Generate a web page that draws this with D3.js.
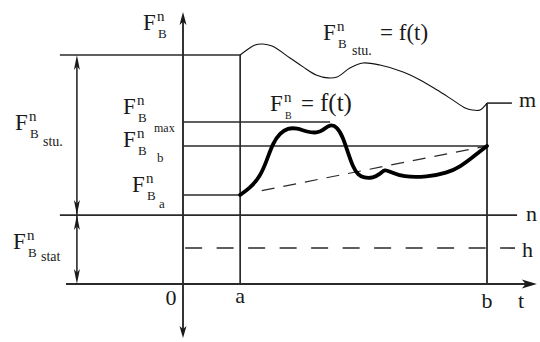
<!DOCTYPE html>
<html><head><meta charset="utf-8">
<script src="https://cdn.jsdelivr.net/npm/d3@7"></script>
</head><body style="margin:0;background:#fff">
<svg id="c" width="540" height="342" style="display:block"></svg>
<script>
// ---- data ----
const tickLabels = ["0", "a", "b"];
const tickTimes = [0, 18.8, 100];
const levelNames = ["stuA", "m", "max", "b", "a", "n", "h"];
const levelValues = [100, 79.0, 70.7, 60.3, 38.9, 30.1, 15.7];
// upper curve F_B_stu = f(t)
const stuT = [18.8, 21.0, 23.7, 26.3, 29.3, 35.2, 39.5, 43.8, 47.7, 50.7, 54.9, 59.2, 64.8, 72.4, 78.0, 83.6, 88.8, 92.8, 95.1, 97.7, 100];
const stuF = [100, 102.2, 104.4, 104.8, 103.9, 98.7, 94.8, 91.3, 90.0, 90.4, 94.3, 96.5, 95.6, 92.6, 89.1, 84.7, 80.3, 76.9, 76.0, 76.0, 79.0];
// thick curve F_B = f(t)
const fbT = [18.8, 22.0, 25.3, 27.6, 29.6, 31.9, 34.5, 37.5, 40.8, 44.1, 46.1, 48.4, 50.7, 52.6, 54.3, 55.9, 57.6, 59.5, 62.5, 64.8, 66.4, 68.1, 72.4, 80.3, 86.8, 91.1, 95.4, 100];
const fbF = [38.9, 41.9, 46.7, 54.1, 61.6, 65.9, 68.1, 68.1, 66.4, 65.9, 67.2, 69.8, 68.6, 64.2, 57.2, 51.1, 47.6, 46.3, 46.3, 48.0, 50.2, 48.9, 46.7, 46.7, 48.5, 51.1, 55.5, 60.3];

// ---- layout ----
const svg = d3.select("#c");
const x = d3.scaleLinear().domain([0, 100]).range([183, 487]);
const y = d3.scaleLinear().domain([0, 100]).range([284, 55]);
const lv = n => levelValues[levelNames.indexOf(n)];
const T_A = tickTimes[1], T_B = tickTimes[2];
const X_LEFT = -40.5, X_DIM = -34.9, X_AXIS_START = -38.5, X_AXIS_END = 116.4;
const Y_TOP = 118.8, Y_BOT = -23.6;
const LC = "#2a2a2a";

function seg(x1, y1, x2, y2, w, dash) {
  const l = svg.append("line").attr("x1", x1).attr("y1", y1).attr("x2", x2).attr("y2", y2)
    .attr("stroke", LC).attr("stroke-width", w || 1.6);
  if (dash) l.attr("stroke-dasharray", dash);
  return l;
}
function arrow(px, py, dir, len, hw) {
  let p;
  if (dir === "up") p = [[px, py], [px - hw, py + len], [px, py + len * 0.75], [px + hw, py + len]];
  else if (dir === "down") p = [[px, py], [px - hw, py - len], [px, py - len * 0.75], [px + hw, py - len]];
  else p = [[px, py], [px - len, py - hw], [px - len * 0.75, py], [px - len, py + hw]];
  svg.append("path").attr("d", "M" + p.map(d => d.join(",")).join("L") + "Z").attr("fill", "#1a1a1a");
}

// horizontal levels
seg(x(X_LEFT), y(lv("stuA")), x(T_A), y(lv("stuA")));
const pk = d3.maxIndex(fbF);
seg(x(0), y(lv("max")), x(fbT[pk]), y(lv("max")), 1.5);
seg(x(0), y(lv("b")), x(T_B), y(lv("b")), 1.5);
seg(x(0), y(lv("a")), x(T_A), y(lv("a")), 1.5);
seg(x(X_LEFT), y(lv("n")), x(109.9), y(lv("n")), 1.8);
seg(x(0.7), y(lv("h")), x(109.2), y(lv("h")), 1.6, "17,14.5");
seg(x(T_B), y(lv("m")), x(108.2), y(lv("m")), 1.6);

// verticals a, b
seg(x(T_A), y(lv("stuA")), x(T_A), y(0), 1.7);
seg(x(T_B), y(lv("m")), x(T_B), y(0), 1.8);

// t axis
seg(x(X_AXIS_START), y(0), x(X_AXIS_END) - 8, y(0), 1.9);
arrow(x(X_AXIS_END), y(0), "right", 15, 4.5);

// y axis
seg(x(0), y(Y_TOP) + 8, x(0), y(Y_BOT) - 8, 1.9);
arrow(x(0), y(Y_TOP), "up", 13, 3.5);
arrow(x(0), y(Y_BOT), "down", 12, 3.5);

// dimension line
seg(x(X_DIM), y(100) + 6, x(X_DIM), y(0) - 6, 1.6);
arrow(x(X_DIM), y(100), "up", 15, 3);
arrow(x(X_DIM), y(lv("n")), "down", 15, 3);
arrow(x(X_DIM), y(lv("n")), "up", 15, 3);
arrow(x(X_DIM), y(0), "down", 15, 3);

// dashed trend line a -> b
seg(x(T_A), y(lv("a")), x(T_B), y(lv("b")), 1.2, "0,22,13,9,13,9,13,9,13,9,13,9,13,9,13,9,13,9,13,9,13,9,13,9,13,9");

// curves
const line = d3.line().x(d => x(d[0])).y(d => y(d[1])).curve(d3.curveCatmullRom.alpha(0.5));
svg.append("path").attr("d", line(d3.zip(stuT, stuF))).attr("fill", "none")
  .attr("stroke", "#111").attr("stroke-width", 1.1);
const thick = d3.line().x(d => x(d[0])).y(d => y(d[1])).curve(d3.curveBasis);
svg.append("path").attr("d", thick(d3.zip(fbT, fbF))).attr("fill", "none")
  .attr("stroke", "#000").attr("stroke-width", 3.8).attr("stroke-linejoin", "round").attr("stroke-linecap", "round");

const fams = ["Times New Roman"];
const labels = svg.append("g").attr("font-family", "serif");
function t(xp, yp, s, fs, anchor) {
  return labels.append("text").attr("x", xp).attr("y", yp).attr("font-size", fs)
    .style("font-family", fams[0])
    .attr("fill", "#1a1a1a").attr("text-anchor", anchor || "start").text(s);
}
// tick labels
tickLabels.forEach((d, i) => t(x(tickTimes[i]) + (i === 0 ? -12 : 0), [305, 303, 308][i], d, 22, "middle"));
t(521, 308, "t", 22, "middle");
t(519, 107, "m", 22);
t(526, 221, "n", 22);
t(522, 257, "h", 22);

// F labels: F with superscript n and subscript B
function fLab(x0, yb, sub, sx, sy, ssize, opt) {
  opt = opt || {};
  t(x0, yb, "F", opt.fs || 23);
  t(x0 + 14, yb - 9, "n", opt.nfs || 15);
  t(x0 + 15, yb + (opt.bdy || 8), "B", opt.bfs || 13);
  if (sub) t(x0 + sx, yb + sy, sub, ssize || 14);
}
fLab(143, 30, null);
fLab(15, 130, "stu.", 28, 16, 14);
fLab(13, 249, "stat", 28, 12, 14);
fLab(123, 114, "max", 31, 18, 12);
fLab(123, 147, "b", 34, 15, 13);
fLab(132, 192, "a", 27, 16, 13);
fLab(323, 40, "stu.", 29, 15, 14);
t(380, 40, "= f(t)", 23);
fLab(270, 111, null, 0, 0, 0, {bfs: 10, bdy: 8});
t(301, 111, "=", 23);
t(320, 111, "f(t)", 25);
</script>
</body></html>
